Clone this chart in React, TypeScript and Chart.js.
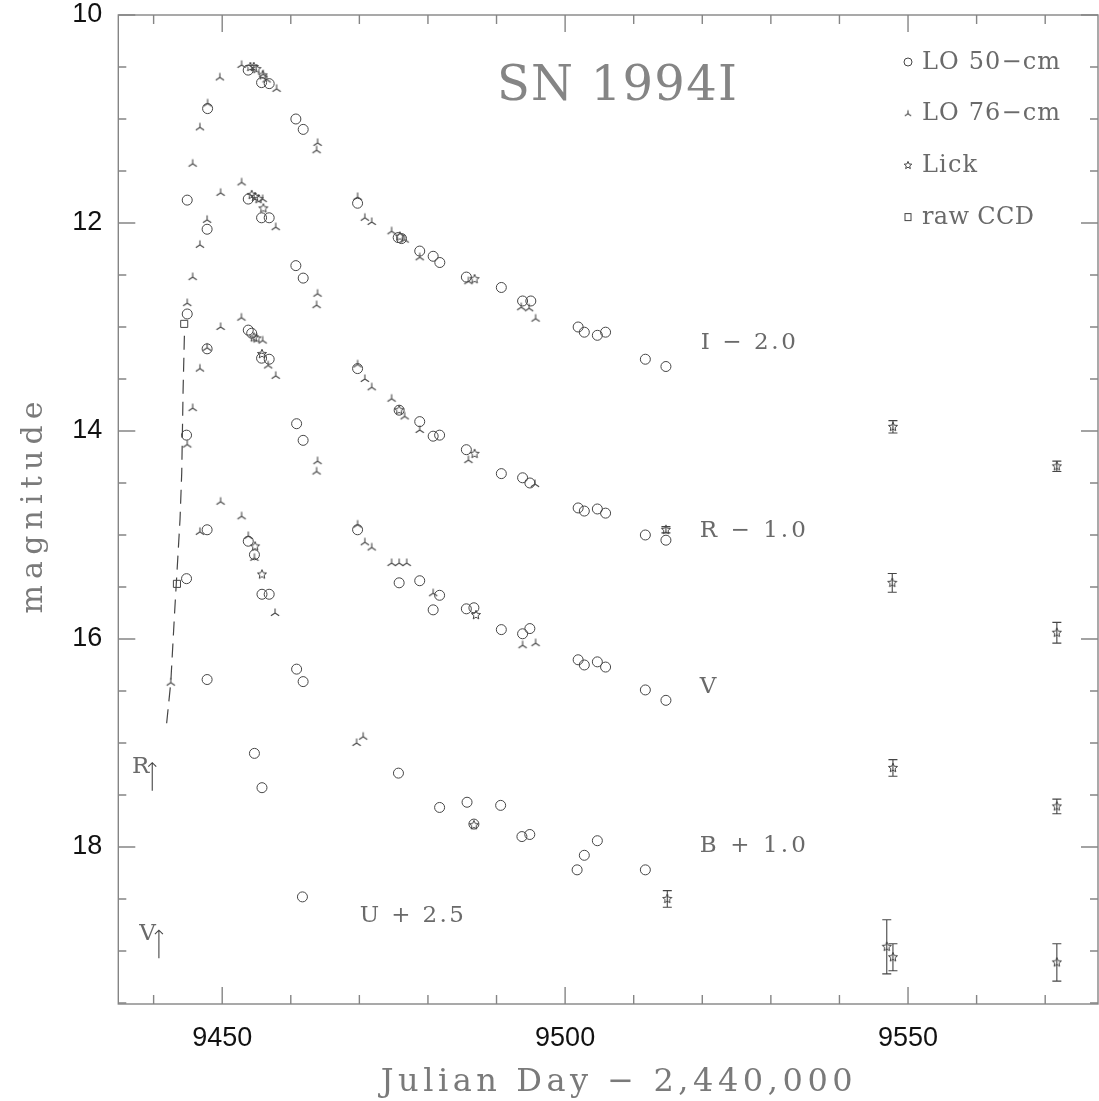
import React, { useEffect, useRef } from "react";
import { Chart, registerables } from "chart.js";

Chart.register(...registerables);

type Pt = [number, number];
type EPt = [number, number, number];

// ---------------- axis settings ----------------
const X_MIN = 9434.85;
const X_MAX = 9577.7;
const Y_MIN = 10;
const Y_MAX = 19.51;
const X_STEP = 10;
const X_LABEL_EVERY = 50;
const Y_STEP = 0.5;
const Y_LABEL_EVERY = 2;

// ---------------- LO 50-cm (circles) ----------------
const lo50I: Pt[] = [
  [9444.9, 11.78], [9447.87, 10.9], [9453.79, 10.53], [9455.74, 10.65], [9456.85, 10.66],
  [9460.74, 11.0], [9461.81, 11.1], [9469.74, 11.81], [9475.66, 12.14], [9476.15, 12.15],
  [9478.8, 12.27], [9480.76, 12.32], [9481.73, 12.38], [9485.6, 12.52], [9490.7, 12.62],
  [9493.8, 12.75], [9495.0, 12.75], [9501.9, 13.0], [9502.8, 13.05], [9504.7, 13.08],
  [9505.9, 13.05], [9511.7, 13.31], [9514.7, 13.38],
];
const lo50R: Pt[] = [
  [9444.9, 12.875], [9447.8, 12.06], [9453.8, 11.77], [9455.74, 11.95], [9456.85, 11.95],
  [9460.74, 12.41], [9461.81, 12.53], [9469.74, 13.4], [9475.8, 13.8], [9478.8, 13.91],
  [9480.76, 14.05], [9481.7, 14.04], [9485.6, 14.18], [9490.7, 14.41], [9493.8, 14.45],
  [9494.86, 14.5], [9501.9, 14.74], [9502.8, 14.77], [9504.7, 14.75], [9505.9, 14.79],
  [9511.7, 15.0], [9514.7, 15.05],
];
const lo50V: Pt[] = [
  [9444.8, 14.04], [9447.8, 13.21], [9453.8, 13.03], [9454.3, 13.06], [9455.74, 13.3],
  [9456.85, 13.31], [9460.85, 13.93], [9461.8, 14.09], [9469.74, 14.95], [9475.8, 15.46],
  [9478.8, 15.44], [9481.7, 15.58], [9480.76, 15.72], [9485.6, 15.71], [9486.7, 15.7],
  [9490.7, 15.91], [9493.8, 15.95], [9494.86, 15.9], [9501.9, 16.2], [9502.8, 16.25],
  [9504.7, 16.22], [9505.9, 16.27], [9511.7, 16.49], [9514.7, 16.59],
];
const lo50B: Pt[] = [
  [9444.8, 15.42], [9447.8, 14.95], [9453.8, 15.06], [9454.7, 15.19], [9455.8, 15.57],
  [9456.85, 15.57], [9460.85, 16.29], [9461.8, 16.41], [9475.7, 17.29], [9481.7, 17.62],
  [9485.7, 17.57], [9486.7, 17.78], [9490.6, 17.6], [9493.7, 17.9], [9494.85, 17.88],
  [9501.75, 18.22], [9502.8, 18.08], [9504.7, 17.94], [9511.7, 18.22],
];
const lo50U: Pt[] = [[9447.8, 16.39], [9454.7, 17.1], [9455.8, 17.43], [9461.7, 18.48]];

// ---------------- LO 76-cm (three-pronged marks) ----------------
const lo76I: Pt[] = [
  [9445.69, 11.43], [9446.75, 11.08], [9447.87, 10.85], [9449.66, 10.6], [9452.83, 10.48],
  [9455.98, 10.57], [9456.47, 10.62], [9457.93, 10.71], [9463.91, 11.23], [9463.76, 11.3],
  [9469.74, 11.75], [9470.8, 11.95], [9471.8, 11.99], [9474.7, 12.08], [9476.6, 12.16],
  [9478.8, 12.33], [9485.9, 12.56], [9493.6, 12.81], [9494.75, 12.82], [9495.7, 12.92],
];
const lo76R: Pt[] = [
  [9444.9, 12.77], [9445.69, 12.52], [9446.75, 12.21], [9447.8, 11.97], [9449.77, 11.71],
  [9452.83, 11.61], [9455.9, 11.77], [9457.8, 12.04], [9463.9, 12.68], [9463.76, 12.79],
  [9469.74, 13.36], [9470.8, 13.5], [9471.8, 13.58], [9474.7, 13.69], [9476.6, 13.86],
  [9478.8, 13.99], [9485.9, 14.28], [9495.6, 14.51],
];
const lo76V: Pt[] = [
  [9444.9, 14.13], [9445.69, 13.78], [9446.75, 13.4], [9447.8, 13.2], [9449.77, 13.0],
  [9452.8, 12.91], [9455.9, 13.13], [9456.7, 13.37], [9457.8, 13.47], [9463.9, 14.29],
  [9463.76, 14.39], [9469.74, 14.9], [9470.8, 15.07], [9471.8, 15.12], [9474.7, 15.27],
  [9475.8, 15.27], [9476.9, 15.27], [9480.76, 15.56], [9493.8, 16.06], [9495.7, 16.04],
];
const lo76B: Pt[] = [
  [9446.75, 14.97], [9449.77, 14.68], [9452.83, 14.82], [9453.8, 15.01], [9454.7, 15.22],
  [9457.7, 15.75], [9469.6, 17.0], [9470.55, 16.94],
];
const lo76Early: Pt[] = [[9442.5, 16.42]];

// ---------------- Lick (stars) : day, mag, error ----------------
const lickI: EPt[] = [
  [9454.1, 10.5, 0], [9454.6, 10.5, 0], [9455.0, 10.52, 0], [9455.9, 10.58, 0],
  [9475.9, 12.13, 0], [9486.8, 12.54, 0], [9547.8, 13.96, 0.06], [9571.7, 14.34, 0.05],
];
const lickR: EPt[] = [
  [9454.3, 11.73, 0], [9454.8, 11.75, 0], [9455.3, 11.77, 0], [9456.0, 11.86, 0],
  [9475.8, 13.8, 0], [9486.8, 14.22, 0], [9514.7, 14.95, 0.03], [9547.7, 15.46, 0.09],
  [9571.7, 15.94, 0.1],
];
const lickV: EPt[] = [
  [9454.6, 13.1, 0], [9455.0, 13.11, 0], [9455.8, 13.26, 0], [9487.0, 15.77, 0],
  [9547.8, 17.24, 0.08], [9571.7, 17.61, 0.07],
];
const lickB: EPt[] = [
  [9454.8, 15.11, 0], [9455.8, 15.38, 0], [9486.7, 17.79, 0], [9514.9, 18.5, 0.08],
  [9547.8, 19.06, 0.13], [9571.7, 19.11, 0.18],
];
const lickU: EPt[] = [[9546.9, 18.96, 0.26]];

// ---------------- raw CCD (squares) and early rise curve ----------------
const rawCCD: Pt[] = [[9443.4, 15.47], [9444.46, 12.97]];
const riseCurve: Pt[] = [
  [9441.9, 16.81], [9442.5, 16.42], [9443.1, 15.7], [9443.5, 15.25], [9443.85, 14.85],
  [9444.1, 14.4], [9444.3, 13.6], [9444.5, 13.05],
];

// ---------------- upper limits ----------------
const limitBands = ["R", "V"];
const limitDays = [9439.8, 9440.77];
const limitMags = [17.19, 18.8];

// ---------------- text ----------------
const seriesLabels = ["LO 50\u2212cm", "LO 76\u2212cm", "Lick", "raw CCD"];
const bandLabels = ["I \u2212 2.0", "R \u2212 1.0", "V", "B + 1.0", "U + 2.5"];
const titleText = "SN 1994I";
const xTitle = "Julian Day \u2212 2,440,000";
const yTitle = "magnitude";

// ---------------- layout / style (not data) ----------------
const bandLabelAnchors = [
  { day: 9519.78, mag: 13.21, w: 95 },
  { day: 9519.64, mag: 15.02, w: 106 },
  { day: 9519.64, mag: 16.52, w: 0 },
  { day: 9519.64, mag: 18.05, w: 106 },
  { day: 9470.07, mag: 18.72, w: 104 },
];
const SERIF = '"DejaVu Serif", "Liberation Serif", serif';
const SANS = '"Liberation Sans", Arial, sans-serif';
const MARK = "#454545";
const TEXT = "#6a6a6a";
const FRAME = "#858585";

const isMult = (v: number, m: number) => Math.abs(v / m - Math.round(v / m)) < 1e-6;
const toPts = (arr: Pt[]) => arr.map(([x, y]) => ({ x, y }));
const toEPts = (arr: EPt[]) => arr.map(([x, y, err]) => ({ x, y, err }));

function glyph(size: number, draw: (ctx: CanvasRenderingContext2D, m: number) => void) {
  const c = document.createElement("canvas");
  c.width = size;
  c.height = size;
  const ctx = c.getContext("2d")!;
  draw(ctx, size / 2);
  return c;
}
function triGlyph(size: number, arm: number) {
  return glyph(size, (ctx, m) => {
    ctx.strokeStyle = MARK;
    ctx.lineWidth = 1.1;
    ctx.beginPath();
    ctx.moveTo(m, m);
    ctx.lineTo(m, m - arm);
    ctx.moveTo(m, m);
    ctx.lineTo(m - arm * 0.9, m + arm * 0.6);
    ctx.moveTo(m, m);
    ctx.lineTo(m + arm * 0.9, m + arm * 0.6);
    ctx.stroke();
  });
}
function starPath(ctx: CanvasRenderingContext2D, cx: number, cy: number, r: number) {
  ctx.beginPath();
  for (let i = 0; i < 10; i++) {
    const rr = i % 2 === 0 ? r : r * 0.45;
    const a = -Math.PI / 2 + (i * Math.PI) / 5;
    const px = cx + rr * Math.cos(a);
    const py = cy + rr * Math.sin(a);
    if (i === 0) ctx.moveTo(px, py);
    else ctx.lineTo(px, py);
  }
  ctx.closePath();
}
function starGlyph(size: number, r: number) {
  return glyph(size, (ctx, m) => {
    ctx.strokeStyle = MARK;
    ctx.lineWidth = 1;
    starPath(ctx, m, m, r);
    ctx.stroke();
  });
}

function drawFitted(
  ctx: CanvasRenderingContext2D,
  text: string,
  x: number,
  y: number,
  width: number,
  align: "left" | "center"
) {
  const chars = Array.from(text);
  const ws = chars.map((c) => ctx.measureText(c).width);
  const natural = ws.reduce((a, b) => a + b, 0);
  const w = width > 0 ? width : natural;
  const gap = chars.length > 1 ? (w - natural) / (chars.length - 1) : 0;
  let cx = align === "center" ? x - w / 2 : x;
  ctx.textAlign = "left";
  chars.forEach((c, i) => {
    ctx.fillText(c, cx, y);
    cx += ws[i] + gap;
  });
}

export default function App() {
  const ref = useRef<HTMLCanvasElement>(null);

  useEffect(() => {
    const canvas = ref.current;
    if (!canvas) return;

    const tri = triGlyph(12, 4.6);
    const star = starGlyph(12, 4.8);
    const legTri = triGlyph(10, 3.6);

    const decor = {
      id: "decor",
      afterDatasetsDraw(chart: any) {
        const { ctx, scales } = chart;
        const y = scales.y;
        const meta = chart.getDatasetMeta(2);
        const ds = chart.data.datasets[2];
        ctx.save();
        ctx.strokeStyle = MARK;
        ctx.lineWidth = 1.1;
        meta.data.forEach((el: any, i: number) => {
          const raw = ds.data[i];
          if (!raw.err) return;
          const y1 = y.getPixelForValue(raw.y - raw.err);
          const y2 = y.getPixelForValue(raw.y + raw.err);
          ctx.beginPath();
          ctx.moveTo(el.x, y1);
          ctx.lineTo(el.x, y2);
          ctx.moveTo(el.x - 4.5, y1);
          ctx.lineTo(el.x + 4.5, y1);
          ctx.moveTo(el.x - 4.5, y2);
          ctx.lineTo(el.x + 4.5, y2);
          ctx.stroke();
        });
        // upper limits
        limitBands.forEach((b, i) => {
          const px = scales.x.getPixelForValue(limitDays[i]);
          const py = y.getPixelForValue(limitMags[i]);
          ctx.beginPath();
          ctx.moveTo(px, py);
          ctx.lineTo(px, py + 28);
          ctx.moveTo(px - 4, py + 4);
          ctx.lineTo(px, py);
          ctx.lineTo(px + 4, py + 4);
          ctx.stroke();
          ctx.fillStyle = TEXT;
          ctx.font = `23px ${SERIF}`;
          ctx.textBaseline = "alphabetic";
          ctx.textAlign = "right";
          ctx.fillText(b, px - 3, py + 10);
        });
        ctx.restore();
      },
      afterDraw(chart: any) {
        const { ctx, chartArea: a, scales } = chart;
        const xs = scales.x;
        const ys = scales.y;
        ctx.save();
        // frame
        ctx.strokeStyle = FRAME;
        ctx.lineWidth = 1.4;
        ctx.strokeRect(a.left, a.top, a.right - a.left, a.bottom - a.top);
        ctx.beginPath();
        xs.ticks.forEach((t: any) => {
          const px = xs.getPixelForValue(t.value);
          const len = isMult(t.value, X_LABEL_EVERY) ? 17 : 9;
          ctx.moveTo(px, a.bottom);
          ctx.lineTo(px, a.bottom - len);
          ctx.moveTo(px, a.top);
          ctx.lineTo(px, a.top + len);
        });
        ys.ticks.forEach((t: any) => {
          const py = ys.getPixelForValue(t.value);
          const len = isMult(t.value, Y_LABEL_EVERY) ? 17 : 8;
          ctx.moveTo(a.left, py);
          ctx.lineTo(a.left + len, py);
          ctx.moveTo(a.right, py);
          ctx.lineTo(a.right - len, py);
        });
        ctx.stroke();

        ctx.textBaseline = "alphabetic";

        // title
        ctx.fillStyle = "#858585";
        ctx.font = `48px ${SERIF}`;
        drawFitted(ctx, titleText, xs.getPixelForValue(9490.05), ys.getPixelForValue(10.82), 240, "left");

        // band labels
        ctx.fillStyle = TEXT;
        ctx.font = `23px ${SERIF}`;
        bandLabels.forEach((t, i) => {
          const an = bandLabelAnchors[i];
          drawFitted(ctx, t, xs.getPixelForValue(an.day), ys.getPixelForValue(an.mag), an.w, "left");
        });

        // legend
        const lx = a.right - 190;
        ctx.font = `24px ${SERIF}`;
        seriesLabels.forEach((t, i) => {
          const cy = a.top + 47 + i * 51.7;
          ctx.strokeStyle = MARK;
          ctx.lineWidth = 1;
          if (i === 0) {
            ctx.beginPath();
            ctx.arc(lx, cy, 4, 0, Math.PI * 2);
            ctx.stroke();
          } else if (i === 1) {
            ctx.drawImage(legTri, lx - 5, cy - 5);
          } else if (i === 2) {
            starPath(ctx, lx, cy, 4);
            ctx.stroke();
          } else {
            ctx.strokeRect(lx - 3, cy - 3.5, 6, 7);
          }
          ctx.fillStyle = TEXT;
          const w = i < 2 ? 138 : i === 2 ? 55 : 112;
          drawFitted(ctx, t, lx + 14, cy + 6.6, w, "left");
        });

        // axis titles
        ctx.fillStyle = "#7a7a7a";
        ctx.font = `32px ${SERIF}`;
        drawFitted(ctx, xTitle, (a.left + a.right) / 2 + 8.5, a.bottom + 87, 472, "center");
        ctx.font = `30px ${SERIF}`;
        ctx.translate(a.left - 76, (a.top + a.bottom) / 2 - 2);
        ctx.rotate(-Math.PI / 2);
        drawFitted(ctx, yTitle, 0, 0, 212, "center");
        ctx.restore();
      },
    };

    const chart = new Chart(canvas, {
      type: "scatter",
      data: {
        datasets: [
          {
            label: seriesLabels[0],
            data: toPts([...lo50I, ...lo50R, ...lo50V, ...lo50B, ...lo50U]),
            pointStyle: "circle",
            pointRadius: 5,
            pointBorderWidth: 1,
            borderColor: MARK,
            backgroundColor: "rgba(0,0,0,0)",
          },
          {
            label: seriesLabels[1],
            data: toPts([...lo76I, ...lo76R, ...lo76V, ...lo76B, ...lo76Early]),
            pointStyle: tri as any,
            pointRadius: 5,
            borderColor: MARK,
          },
          {
            label: seriesLabels[2],
            data: toEPts([...lickI, ...lickR, ...lickV, ...lickB, ...lickU]) as any,
            pointStyle: star as any,
            pointRadius: 5,
            borderColor: MARK,
          },
          {
            label: seriesLabels[3],
            data: toPts(rawCCD),
            pointStyle: "rect",
            pointRadius: 5,
            pointBorderWidth: 1,
            borderColor: MARK,
            backgroundColor: "rgba(0,0,0,0)",
          },
          {
            label: "rise",
            type: "line",
            data: toPts(riseCurve),
            showLine: true,
            pointRadius: 0,
            borderColor: MARK,
            borderWidth: 1.2,
            borderDash: [14, 8],
            fill: false,
            tension: 0,
          } as any,
        ],
      },
      options: {
        responsive: false,
        maintainAspectRatio: false,
        animation: false,
        events: [],
        layout: { autoPadding: false, padding: { top: 15, right: 1, left: 0, bottom: 0 } },
        plugins: { legend: { display: false }, tooltip: { enabled: false } },
        scales: {
          x: {
            type: "linear",
            min: X_MIN,
            max: X_MAX,
            grid: { display: false, drawTicks: false },
            border: { display: false },
            ticks: {
              stepSize: X_STEP,
              includeBounds: false,
              autoSkip: false,
              maxRotation: 0,
              padding: 18,
              color: "#111",
              font: { family: SANS, size: 27 },
              callback: (v: any) => (isMult(Number(v), X_LABEL_EVERY) ? String(v) : ""),
            },
            afterFit: (s: any) => {
              s.height = 97;
              s.paddingLeft = 0;
              s.paddingRight = 0;
            },
          },
          y: {
            type: "linear",
            reverse: true,
            min: Y_MIN,
            max: Y_MAX,
            grid: { display: false, drawTicks: false },
            border: { display: false },
            ticks: {
              stepSize: Y_STEP,
              includeBounds: false,
              autoSkip: false,
              padding: 16,
              color: "#111",
              font: { family: SANS, size: 27 },
              callback: (v: any) => (isMult(Number(v), Y_LABEL_EVERY) ? String(v) : ""),
            },
            afterFit: (s: any) => {
              s.width = 118.3;
              s.paddingTop = 0;
              s.paddingBottom = 0;
            },
          },
        },
      },
      plugins: [decor],
    } as any);

    return () => chart.destroy();
  }, []);

  return (
    <div style={{ position: "absolute", left: 0, top: 0, width: 1099, height: 1101, background: "#fff" }}>
      <canvas ref={ref} width={1099} height={1101} style={{ display: "block", width: 1099, height: 1101 }} />
    </div>
  );
}
